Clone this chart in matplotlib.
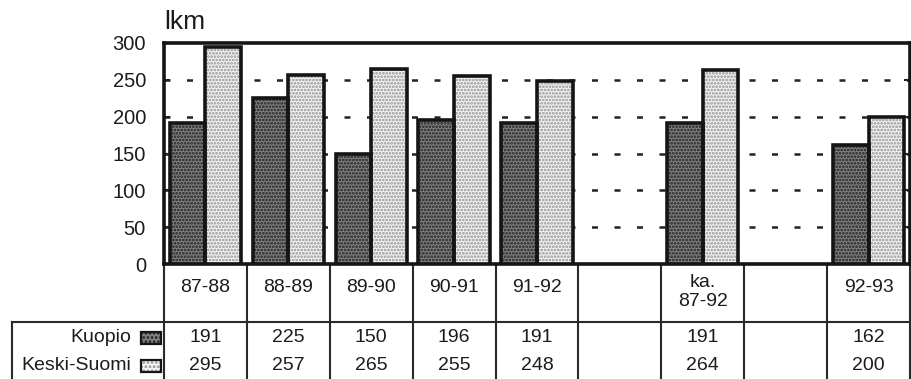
import matplotlib
matplotlib.use("Agg")
import matplotlib.pyplot as plt
from matplotlib.patches import Rectangle
from matplotlib.transforms import blended_transform_factory

plt.rcParams["font.family"] = ["Liberation Sans", "DejaVu Sans"]
plt.rcParams["hatch.linewidth"] = 1.3

# Season columns; empty strings are spacer columns without bars
categories = ["87-88", "88-89", "89-90", "90-91", "91-92", "", "ka.\n87-92", "", "92-93"]
kuopio = [191, 225, 150, 196, 191, None, 191, None, 162]
keski_suomi = [295, 257, 265, 255, 248, None, 264, None, 200]
series_names = ["Kuopio", "Keski-Suomi"]
y_ticks = [0, 50, 100, 150, 200, 250, 300]
y_label = "lkm"

W, H = 911, 379
fig = plt.figure(figsize=(W / 100, H / 100), dpi=100)

# pixel-space overlay used for the table underneath the bars
ov = fig.add_axes([0, 0, 1, 1], zorder=0)
ov.set_xlim(0, W)
ov.set_ylim(H, 0)
ov.axis("off")

px_left, px_right, px_top, px_zero = 164, 910, 43, 264
ax = fig.add_axes([px_left / W, 1 - px_zero / H,
                   (px_right - px_left) / W, (px_zero - px_top) / H], zorder=2)
ax.set_xlim(0, len(categories))
ax.set_ylim(0, 300)

styles = [
    dict(face="#808080", hatchc="#1e1e1e", hatch="....."),   # dark dotted
    dict(face="#f4f4f4", hatchc="#909090", hatch="....."),   # light dotted
]
bw = 0.43
offsets = [-bw / 2, bw / 2]
text_c = "#1c1c1c"

for vals, st, off in zip([kuopio, keski_suomi], styles, offsets):
    xs = [i + 0.5 + off for i, v in enumerate(vals) if v is not None]
    hs = [v for v in vals if v is not None]
    ax.bar(xs, hs, width=bw, color=st["face"], edgecolor=st["hatchc"],
           hatch=st["hatch"], linewidth=0, zorder=3)
    ax.bar(xs, hs, width=bw, fill=False, edgecolor="#151515",
           linewidth=2.6, zorder=4)

# dashed reference lines behind the bars
for yv in y_ticks[1:-1]:
    ax.axhline(yv, color="#222222", linewidth=1.8, dashes=(2.4, 6.6),
               zorder=1)

ax.set_yticks(y_ticks)
ax.set_yticklabels([str(t) for t in y_ticks], fontsize=14.5, color=text_c)
ax.tick_params(axis="y", direction="in", length=4, width=1.5, pad=13,
               right=True, colors="#222222", labelcolor=text_c)
ax.set_xticks([])
for sp in ax.spines.values():
    sp.set_linewidth(2.6)
    sp.set_color("#151515")

ax.text(0.0, 1.04, y_label, transform=ax.transAxes, fontsize=19,
        color=text_c, ha="left", va="bottom")

# table below the axis
tr = blended_transform_factory(ax.transData, ov.transData)
lc = "#2a2a2a"
row_line, row1_y, row2_y = 322, 338, 366
box_left = 12
for b in range(len(categories) + 1):
    ov.plot([b, b], [px_zero, H], transform=tr, color=lc, linewidth=1.5,
            solid_capstyle="butt")
ov.plot([box_left, px_right], [row_line, row_line], color=lc, linewidth=1.5)
ov.plot([box_left, box_left], [row_line, H], color=lc, linewidth=1.5)

for i, cat in enumerate(categories):
    if cat:
        if "\n" in cat:
            ov.text(i + 0.5, 292, cat, transform=tr, ha="center", va="center",
                    fontsize=14, color=text_c, linespacing=1.15)
        else:
            ov.text(i + 0.5, 288, cat, transform=tr, ha="center", va="center",
                    fontsize=14, color=text_c)
    for vals, yy in zip([kuopio, keski_suomi], [row1_y, row2_y]):
        if vals[i] is not None:
            ov.text(i + 0.5, yy, str(vals[i]), transform=tr, ha="center",
                    va="center", fontsize=14, color=text_c)

for name, st, yy in zip(series_names, styles, [row1_y, row2_y]):
    ov.text(131, yy, name, ha="right", va="center", fontsize=14,
            color=text_c)
    ov.add_patch(Rectangle((141, yy - 6), 20, 12, facecolor=st["face"],
                           edgecolor=st["hatchc"], hatch="....", linewidth=0))
    ov.add_patch(Rectangle((141, yy - 6), 20, 12, fill=False,
                           edgecolor="#151515", linewidth=1.6))

fig.savefig("out.png", dpi=100)
